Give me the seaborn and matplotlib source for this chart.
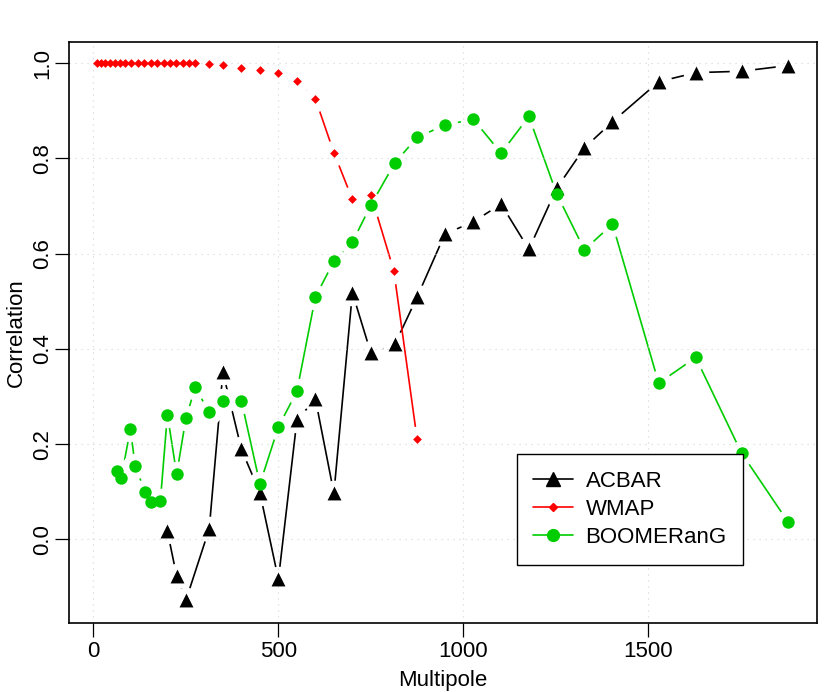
import numpy as np
import pandas as pd
import seaborn as sns
import matplotlib.pyplot as plt
from matplotlib.lines import Line2D

# multipole bins and correlation values
acbar_l = [200, 225, 250, 313, 350, 400, 450, 500, 550, 600, 650, 700, 750, 815,
           875, 950, 1027, 1102, 1177, 1252, 1327, 1403, 1528, 1628, 1752, 1878]
acbar_corr = [0.017, -0.077, -0.128, 0.022, 0.351, 0.189, 0.098, -0.084, 0.250, 0.295,
              0.097, 0.518, 0.391, 0.410, 0.509, 0.641, 0.667, 0.704, 0.609, 0.737,
              0.822, 0.877, 0.961, 0.980, 0.983, 0.995]

wmap_l = [9, 20, 32, 44, 57, 71, 86, 101, 120, 138, 156, 173, 190, 207, 224, 241, 258,
          275, 313, 350, 400, 450, 500, 550, 600, 650, 700, 750, 812, 875]
wmap_corr = [1.0, 1.0, 1.0, 1.0, 1.0, 1.0, 1.0, 1.0, 1.0, 1.0, 1.0, 1.0, 1.0, 1.0, 1.0,
             1.0, 1.0, 1.0, 0.998, 0.997, 0.989, 0.986, 0.979, 0.963, 0.925, 0.812,
             0.714, 0.724, 0.564, 0.210]

boom_l = [65, 75, 100, 113, 140, 155, 181, 200, 225, 250, 275, 313, 350, 400, 450, 500,
          550, 600, 650, 700, 750, 815, 875, 950, 1027, 1102, 1177, 1252, 1327, 1403,
          1528, 1628, 1752, 1878]
boom_corr = [0.144, 0.128, 0.232, 0.153, 0.100, 0.079, 0.081, 0.262, 0.137, 0.254,
             0.319, 0.267, 0.290, 0.291, 0.116, 0.236, 0.311, 0.509, 0.584, 0.624,
             0.702, 0.791, 0.844, 0.870, 0.882, 0.811, 0.888, 0.726, 0.608, 0.662,
             0.328, 0.382, 0.181, 0.036]

series_names = ['ACBAR', 'WMAP', 'BOOMERanG']
series_colors = ['black', '#FF0000', '#00CD00']
series_markers = ['^', 'D', 'o']
marker_sizes = [100, 20, 80]

sns.set_theme(style='white')
plt.rcParams['font.family'] = ['Liberation Sans', 'DejaVu Sans']
plt.rcParams['text.color'] = 'black'
plt.rcParams['axes.labelcolor'] = 'black'
plt.rcParams['xtick.color'] = 'black'
plt.rcParams['ytick.color'] = 'black'

fig = plt.figure(figsize=(8.3, 6.92), dpi=100)
ax = fig.add_axes([69 / 830, 1 - 622.7 / 692, 747.7 / 830, 581 / 692])

data = [(acbar_l, acbar_corr), (wmap_l, wmap_corr), (boom_l, boom_corr)]

# R style type="b": line broken around each point (white halo under the marker)
for i, ((xs, ys), col) in enumerate(zip(data, series_colors)):
    sns.lineplot(x=xs, y=ys, color=col, lw=1.2, estimator=None, sort=False,
                 ax=ax, zorder=1.0 + 0.1 * i)
    sns.scatterplot(x=xs, y=ys, color='white', s=340, linewidth=0,
                    ax=ax, zorder=1.05 + 0.1 * i)

for (xs, ys), col, mk, ms in zip(data, series_colors, series_markers, marker_sizes):
    sns.scatterplot(x=xs, y=ys, color=col, marker=mk, s=ms, linewidth=0,
                    ax=ax, zorder=3)

ax.set_xlim(-66, 1955)
ax.set_ylim(-0.175, 1.045)
ax.set_xticks([0, 500, 1000, 1500])
ax.set_yticks([0.0, 0.2, 0.4, 0.6, 0.8, 1.0])
ax.set_yticklabels(['0.0', '0.2', '0.4', '0.6', '0.8', '1.0'])
ax.tick_params(direction='out', length=10, width=0.9, labelsize=16, pad=3.5,
               colors='black', bottom=True, left=True)
ax.tick_params(axis='y', labelrotation=90, pad=1.5)
for lab in ax.get_yticklabels():
    lab.set_va('center')

ax.set_axisbelow('line')
ax.grid(True, color='#D3D3D3', lw=0.8, linestyle=(0, (1, 4.4)))

for sp in ax.spines.values():
    sp.set_color('black')
    sp.set_linewidth(1.2)

ax.set_xlabel('Multipole', fontsize=16)
ax.set_ylabel('Correlation', fontsize=16)
ax.xaxis.set_label_coords(0.5, -0.1)
ax.xaxis.label.set_va('center')
ax.yaxis.set_label_coords(-0.07, 0.5)
ax.yaxis.label.set_va('center')

handles = [Line2D([0], [0], color=c, lw=1.2, marker=m, markersize=np.sqrt(s) * 0.95)
           for c, m, s in zip(series_colors, series_markers, marker_sizes)]
leg = ax.legend(handles, series_names, loc='upper left', bbox_to_anchor=(0.5988, 0.2904),
                borderaxespad=0, fontsize=16, frameon=True, fancybox=False,
                edgecolor='black', framealpha=1, borderpad=0.75, handlelength=1.8,
                handletextpad=0.55, labelspacing=0.32, numpoints=1)
leg.get_frame().set_linewidth(1.0)
leg.set_zorder(5)

fig.savefig('out.png', dpi=100)
